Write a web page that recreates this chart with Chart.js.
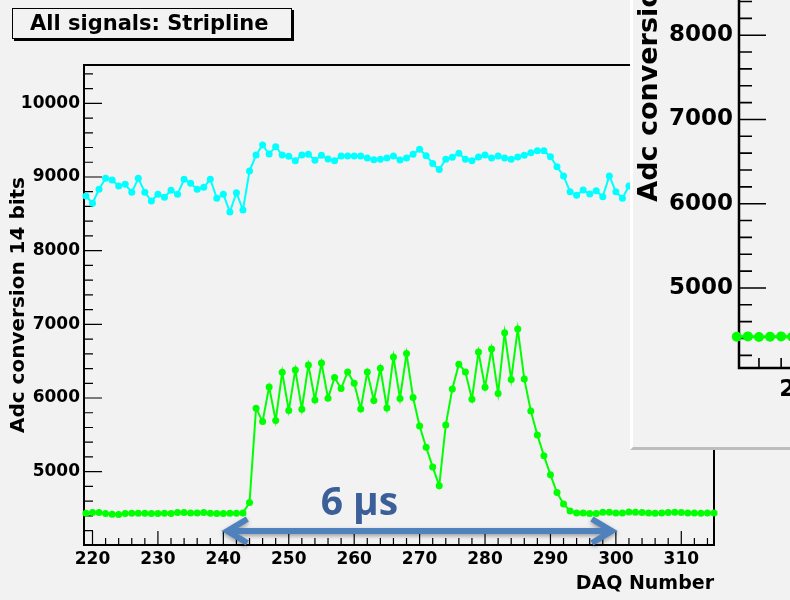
<!DOCTYPE html>
<html>
<head>
<meta charset="utf-8">
<script src="https://cdn.jsdelivr.net/npm/chart.js@4.4.1/dist/chart.umd.min.js"></script>
<style>
  html, body { margin: 0; padding: 0; }
  body { width: 790px; height: 600px; background: #f2f2f2; position: relative; overflow: hidden; }
  #main { position: absolute; left: 0; top: 0; }
  .title-box {
    position: absolute; left: 12px; top: 8px; width: 280px; height: 31px;
    box-sizing: border-box; border: 1px solid #000; background: #f2f2f2;
    box-shadow: 2px 2px 0 #000; padding-left: 17px;
    font: bold 21px "DejaVu Sans"; line-height: 29px; color: #000; white-space: nowrap;
  }
  .inset {
    position: absolute; left: 630px; top: 0; width: 160px; height: 450px;
    box-sizing: border-box; overflow: hidden; background: #f2f2f2;
    border-left: 3px solid #fff; border-bottom: 3px solid #bdbdbd;
  }
  #inset { position: absolute; left: 0; top: -330px; }
</style>
</head>
<body>
<canvas id="main" width="790" height="600"></canvas>
<div class="title-box">All signals: Stripline</div>
<div class="inset"><canvas id="inset" width="600" height="777"></canvas></div>
<script>
// DAQ numbers and ADC values
const daq = [];
for (let n = 219; n <= 315; n++) daq.push(n);

const cyanAdc = [
  8742, 8643, 8833, 8982, 8959, 8878, 8901, 8792, 8982, 8792,
  8674, 8765, 8725, 8820, 8765, 8969, 8915, 8833, 8860, 8969,
  8711, 8765, 8525, 8787, 8552, 9081, 9298, 9434, 9312, 9411,
  9298, 9281, 9221, 9298, 9308, 9227, 9294, 9244, 9221, 9285,
  9285, 9285, 9285, 9258, 9235, 9240, 9258, 9285, 9231, 9258,
  9308, 9376, 9289, 9183, 9100, 9240, 9267, 9322, 9240, 9221,
  9271, 9298, 9258, 9285, 9258, 9240, 9271, 9294, 9330, 9357,
  9357, 9276, 9140, 9014, 8801, 8752, 8824, 8769, 8814, 8733,
  9014, 8801, 8711, 8878, 8900
];

const greenAdc = [
  4437, 4445, 4445, 4432, 4423, 4418, 4432, 4437, 4437, 4437,
  4432, 4432, 4437, 4432, 4445, 4445, 4441, 4441, 4445, 4437,
  4432, 4432, 4437, 4437, 4441, 4581, 5862, 5680, 6151, 5694,
  6350, 5829, 6381, 5848, 6449, 5974, 6476, 5997, 6277, 6128,
  6354, 6201, 5852, 6354, 5965, 6404, 5866, 6558, 5992, 6603,
  6006, 5621, 5332, 5065, 4809, 5635, 6124, 6459, 6354, 5984,
  6625, 6147, 6666, 6060, 6887, 6250, 6937, 6259, 5825, 5499,
  5218, 4957, 4717, 4563, 4468, 4441, 4441, 4432, 4432, 4450,
  4450, 4441, 4441, 4454, 4450, 4445, 4441, 4437, 4441, 4445,
  4450, 4445, 4441, 4441, 4437, 4441, 4441
];

const xTickValues = [220, 230, 240, 250, 260, 270, 280, 290, 300, 310];
const yTickValues = [5000, 6000, 7000, 8000, 9000, 10000];

// the "6 µs" arrow
const arrowFrom = 240;
const arrowTo = 300;
const arrowLevel = 4195;
const arrowLabel = "6 µs";
const arrowLabelAt = [260.8, 4412];

// second canvas peeking in at the right
const insetDaq = [214, 215, 216, 217, 218, 219, 220, 221, 222];
const insetAdc = [4421, 4425, 4418, 4421, 4425, 4421, 4418, 4421, 4425];
const insetXTicks = [220, 230, 240, 250];
const insetYTicks = [5000, 6000, 7000, 8000];

const FONT = "'DejaVu Sans'";

function points(xs, ys) {
  return ys.map((v, i) => ({ x: xs[i], y: v }));
}

// ROOT style frame with ticks pointing into the pad
const rootAxes = {
  id: "rootAxes",
  beforeDatasetsDraw(chart, args, o) {
    const { ctx, chartArea: a, scales: { x, y } } = chart;
    ctx.save();
    ctx.strokeStyle = "#000";
    ctx.lineWidth = o.tickWidth;
    ctx.beginPath();
    for (let v = Math.ceil(x.min / o.xMinor) * o.xMinor; v <= x.max; v += o.xMinor) {
      const px = x.getPixelForValue(v);
      const len = v % o.xMajor === 0 ? o.xMajorLen : o.xMinorLen;
      ctx.moveTo(px, a.bottom);
      ctx.lineTo(px, a.bottom - len);
    }
    for (let v = Math.ceil(y.min / o.yMinor) * o.yMinor; v <= y.max; v += o.yMinor) {
      const py = y.getPixelForValue(v);
      const len = v % o.yMajor === 0 ? o.yMajorLen : o.yMinorLen;
      ctx.moveTo(a.left, py);
      ctx.lineTo(a.left + len, py);
    }
    ctx.stroke();
    ctx.lineWidth = o.frameWidth;
    ctx.strokeRect(a.left, a.top, a.right - a.left, a.bottom - a.top);
    ctx.restore();
  },
};

const arrowNote = {
  id: "arrowNote",
  afterDatasetsDraw(chart) {
    const { ctx, scales: { x, y } } = chart;
    const x1 = x.getPixelForValue(arrowFrom);
    const x2 = x.getPixelForValue(arrowTo);
    const py = y.getPixelForValue(arrowLevel);
    ctx.save();
    ctx.strokeStyle = "#4f81bd";
    ctx.lineWidth = 6;
    ctx.lineJoin = "miter";
    ctx.shadowColor = "rgba(0,0,0,0.35)";
    ctx.shadowBlur = 4;
    ctx.shadowOffsetY = 2;
    ctx.beginPath();
    ctx.moveTo(x1 + 4, py);
    ctx.lineTo(x2 - 4, py);
    ctx.moveTo(x1 + 24, py - 12);
    ctx.lineTo(x1 + 4, py);
    ctx.lineTo(x1 + 24, py + 12);
    ctx.moveTo(x2 - 24, py - 12);
    ctx.lineTo(x2 - 4, py);
    ctx.lineTo(x2 - 24, py + 12);
    ctx.stroke();
    ctx.shadowColor = "transparent";
    ctx.fillStyle = "#3c5f99";
    ctx.font = "bold 39px 'Open Sans'";
    ctx.textAlign = "center";
    ctx.textBaseline = "alphabetic";
    ctx.fillText(arrowLabel, x.getPixelForValue(arrowLabelAt[0]), y.getPixelForValue(arrowLabelAt[1]));
    ctx.restore();
  },
};

new Chart(document.getElementById("main"), {
  type: "line",
  data: {
    datasets: [
      {
        data: points(daq, cyanAdc),
        borderColor: "#00ffff",
        backgroundColor: "#00ffff",
        borderWidth: 2,
        pointRadius: 3.5,
        pointBorderWidth: 0,
        clip: false,
      },
      {
        data: points(daq, greenAdc),
        borderColor: "#00ff00",
        backgroundColor: "#00ff00",
        borderWidth: 2,
        pointRadius: 3.5,
        pointBorderWidth: 0,
        clip: false,
      },
    ],
  },
  options: {
    responsive: false,
    animation: false,
    layout: { padding: { left: 0, top: 65, right: 76, bottom: 0 } },
    plugins: {
      legend: { display: false },
      tooltip: { enabled: false },
      rootAxes: {
        xMajor: 10, xMinor: 2, xMajorLen: 14, xMinorLen: 7,
        yMajor: 1000, yMinor: 200, yMajorLen: 18, yMinorLen: 9,
        tickWidth: 1.2, frameWidth: 2,
      },
    },
    scales: {
      x: {
        type: "linear",
        min: 218.7,
        max: 315,
        grid: { display: false, drawTicks: false },
        border: { display: false },
        afterFit: (s) => { s.height = 55; },
        afterBuildTicks: (s) => { s.ticks = xTickValues.map((v) => ({ value: v })); },
        ticks: {
          autoSkip: false, maxRotation: 0, padding: 4, color: "#000",
          font: { family: FONT, weight: "bold", size: 17 },
          callback: (v) => String(v),
        },
        title: {
          display: true, text: "DAQ Number", align: "end", color: "#000",
          padding: { bottom: 5 },
          font: { family: FONT, weight: "bold", size: 19 },
        },
      },
      y: {
        min: 4005,
        max: 10520,
        grid: { display: false, drawTicks: false },
        border: { display: false },
        afterFit: (s) => { s.width = 84; },
        afterBuildTicks: (s) => { s.ticks = yTickValues.map((v) => ({ value: v })); },
        ticks: {
          autoSkip: false, padding: 4, color: "#000",
          font: { family: FONT, weight: "bold", size: 17 },
          callback: (v) => String(v),
        },
        title: {
          display: true, text: "Adc conversion 14 bits", color: "#000",
          padding: { top: 7 },
          font: { family: FONT, weight: "bold", size: 20 },
        },
      },
    },
  },
  plugins: [rootAxes, arrowNote],
});

new Chart(document.getElementById("inset"), {
  type: "line",
  data: {
    datasets: [
      {
        data: points(insetDaq, insetAdc),
        borderColor: "#00ff00",
        backgroundColor: "#00ff00",
        borderWidth: 3,
        pointRadius: 5,
        pointBorderWidth: 0,
        clip: false,
      },
    ],
  },
  options: {
    responsive: false,
    animation: false,
    layout: { padding: { left: 0, top: 10, right: 0, bottom: 0 } },
    plugins: {
      legend: { display: false },
      tooltip: { enabled: false },
      rootAxes: {
        xMajor: 10, xMinor: 2, xMajorLen: 20, xMinorLen: 10,
        yMajor: 1000, yMinor: 200, yMajorLen: 27, yMinorLen: 13,
        tickWidth: 1.6, frameWidth: 2.5,
      },
    },
    scales: {
      x: {
        type: "linear",
        min: 214.2,
        max: 258.3,
        grid: { display: false, drawTicks: false },
        border: { display: false },
        afterFit: (s) => { s.height = 79; },
        afterBuildTicks: (s) => { s.ticks = insetXTicks.map((v) => ({ value: v })); },
        ticks: {
          autoSkip: false, maxRotation: 0, padding: 8, color: "#000",
          font: { family: FONT, weight: "bold", size: 23 },
          callback: (v) => String(v),
        },
      },
      y: {
        min: 4050,
        max: 12100,
        grid: { display: false, drawTicks: false },
        border: { display: false },
        afterFit: (s) => { s.width = 106; },
        afterBuildTicks: (s) => { s.ticks = insetYTicks.map((v) => ({ value: v })); },
        ticks: {
          autoSkip: false, padding: 6, color: "#000",
          font: { family: FONT, weight: "bold", size: 23 },
          callback: (v) => String(v),
        },
        title: {
          display: true, text: "Adc conversion 14 bits", color: "#000",
          padding: { top: 1 },
          font: { family: FONT, weight: "bold", size: 27 },
        },
      },
    },
  },
  plugins: [rootAxes],
});
</script>
</body>
</html>
